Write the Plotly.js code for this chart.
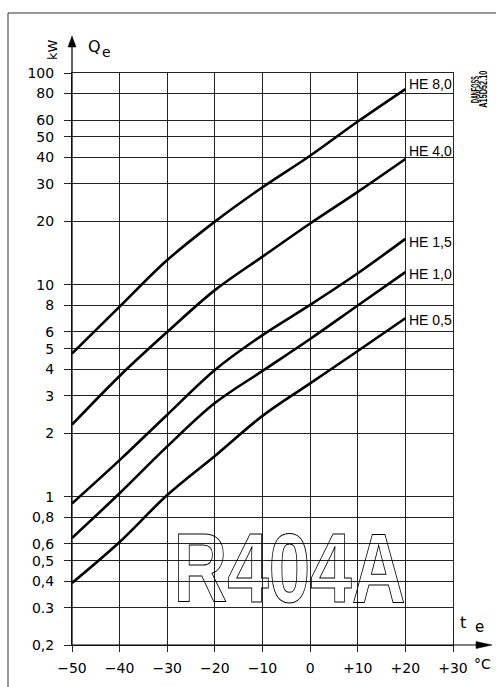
<!DOCTYPE html>
<html><head><meta charset="utf-8">
<script src="https://cdn.plot.ly/plotly-3.0.1.min.js"></script>
<style>html,body{margin:0;padding:0;background:#fff;} #chart{width:496px;height:687px;}</style>
</head><body><div id="chart"></div>
<script>
// ---- data ----
const temps = [-50, -40, -30, -20, -10, 0, 10, 20];
const he80 = [4.75, 7.9, 13.1, 19.9, 28.9, 40.7, 59, 84];
const he40 = [2.19, 3.72, 6.0, 9.45, 13.6, 19.5, 27.5, 39.3];
const he15 = [0.93, 1.49, 2.44, 3.97, 5.8, 8.05, 11.35, 16.5];
const he10 = [0.64, 1.04, 1.73, 2.77, 3.93, 5.56, 8.0, 11.5];
const he05 = [0.392, 0.612, 1.02, 1.56, 2.41, 3.43, 4.88, 6.96];
const seriesNames = ['HE 8,0', 'HE 4,0', 'HE 1,5', 'HE 1,0', 'HE 0,5'];
const xTickVals = [-50, -40, -30, -20, -10, 0, 10, 20, 30];
const xTickText = ['−50', '−40', '−30', '−20', '−10', '0', '+10', '+20', '+30'];
const yTickVals = [0.2, 0.3, 0.4, 0.5, 0.6, 0.8, 1, 2, 3, 4, 5, 6, 8, 10, 20, 30, 40, 50, 60, 80, 100];
const yTickText = ['0,2', '0.3', '0,4', '0,5', '0,6', '0,8', '1', '2', '3', '4', '5', '6', '8', '10', '20', '30', '40', '50', '60', '80', '100'];
const refrigerant = 'R404A';
const drawingId = ['DANFOSS', 'A15D52.10'];

// ---- geometry helpers (pixel -> paper) ----
const W = 496, H = 687, L = 72, R = 43, T = 73, B = 42;
const PW = W - L - R, PH = H - T - B;
const px = x => (x - L) / PW;
const py = y => (H - B - y) / PH;

const FONT = 'DejaVu Sans, Liberation Sans, sans-serif';
const series = [he80, he40, he15, he10, he05];
const labelShift = [5, 8, -3, -2, -2];

const traces = series.map((ys, i) => ({
  x: temps, y: ys, type: 'scatter', mode: 'lines',
  line: {color: '#000', width: 2.6, shape: 'spline', smoothing: 1},
  name: seriesNames[i], hoverinfo: 'skip', showlegend: false, cliponaxis: false
}));

const annotations = series.map((ys, i) => ({
  x: temps[temps.length - 1], y: Math.log10(ys[ys.length - 1]),
  xref: 'x', yref: 'y', text: seriesNames[i], showarrow: false,
  xanchor: 'left', yanchor: 'middle', xshift: 2, yshift: labelShift[i],
  font: {family: 'Liberation Sans, Arial, sans-serif', size: 14, color: '#000'}
}));

const small = (x, y, text, size, xa, ya) => ({
  xref: 'paper', yref: 'paper', x: px(x), y: py(y), text: text, showarrow: false,
  xanchor: xa, yanchor: ya, borderpad: 0, font: {family: FONT, size: size, color: '#000'}
});

annotations.push(
  small(87, 57, 'Q', 16, 'left', 'bottom'),
  small(101, 61, 'e', 14, 'left', 'bottom'),
  Object.assign(small(52, 50, 'kW', 13, 'center', 'middle'), {textangle: -90}),
  small(459.5, 633, 't', 16, 'left', 'bottom'),
  small(474, 637, 'e', 15, 'left', 'bottom'),
  small(482, 664, '°C', 14, 'center', 'middle'),
  {xref: 'paper', yref: 'paper', x: px(474.5), y: py(118), text: drawingId[0], showarrow: false,
   textangle: -90, xanchor: 'center', yanchor: 'bottom', borderpad: 0,
   font: {family: 'Liberation Sans, sans-serif', size: 11, color: '#000', weight: 700}},
  {xref: 'paper', yref: 'paper', x: px(483), y: py(118), text: drawingId[1], showarrow: false,
   textangle: -90, xanchor: 'center', yanchor: 'bottom', borderpad: 0,
   font: {family: 'Liberation Sans, sans-serif', size: 11, color: '#000', weight: 700}},
  {xref: 'paper', yref: 'paper', x: px(289), y: py(568), text: refrigerant, showarrow: false,
   xanchor: 'center', yanchor: 'middle',
   font: {family: 'Liberation Sans, sans-serif', size: 98, color: 'rgba(0,0,0,0)', weight: 700}}
);

const lineStyle = {color: '#000', width: 1.2};
const shapes = [
  // frame
  {type: 'line', xref: 'paper', yref: 'paper', x0: px(8), y0: py(13), x1: px(505), y1: py(13), line: {color: '#333', width: 1}},
  {type: 'line', xref: 'paper', yref: 'paper', x0: px(8), y0: py(13), x1: px(8), y1: py(700), line: {color: '#333', width: 1}},
  // y axis with arrow
  {type: 'line', xref: 'paper', yref: 'paper', x0: 0, y0: 0, x1: 0, y1: py(44), line: lineStyle},
  {type: 'path', xref: 'paper', yref: 'paper',
   path: `M ${px(72)} ${py(36)} L ${px(68)} ${py(47)} L ${px(76)} ${py(47)} Z`,
   fillcolor: '#000', line: {color: '#000', width: 0.5}},
  // x axis with arrow
  {type: 'line', xref: 'paper', yref: 'paper', x0: 0, y0: 0, x1: px(480), y1: 0, line: lineStyle},
  {type: 'path', xref: 'paper', yref: 'paper',
   path: `M ${px(492)} ${py(645)} L ${px(476)} ${py(641.5)} L ${px(476)} ${py(648.5)} Z`,
   fillcolor: '#000', line: {color: '#000', width: 0.5}}
];

const layout = {
  width: W, height: H,
  margin: {l: L, r: R, t: T, b: B, pad: 0},
  paper_bgcolor: '#fff', plot_bgcolor: '#fff',
  showlegend: false,
  font: {family: FONT, size: 14, color: '#000'},
  xaxis: {
    range: [-50, 30], tickmode: 'array', tickvals: xTickVals, ticktext: xTickText,
    showgrid: true, gridcolor: '#222', gridwidth: 1, zeroline: false,
    showline: true, mirror: true, linecolor: '#222', linewidth: 1,
    ticks: 'outside', ticklen: 6, tickcolor: '#222', tickwidth: 1,
    tickfont: {family: FONT, size: 14, color: '#000'}, ticklabelstandoff: 4
  },
  yaxis: {
    type: 'log', range: [Math.log10(0.2), 2], tickmode: 'array', tickvals: yTickVals, ticktext: yTickText,
    showgrid: true, gridcolor: '#222', gridwidth: 1, zeroline: false,
    showline: true, mirror: true, linecolor: '#222', linewidth: 1,
    ticks: 'outside', ticklen: 7, tickcolor: '#222', tickwidth: 1,
    tickfont: {family: FONT, size: 14, color: '#000'}, ticklabelstandoff: 7
  },
  annotations: annotations,
  shapes: shapes
};

Plotly.newPlot('chart', traces, layout, {staticPlot: true, displayModeBar: false}).then(gd => {
  gd.querySelectorAll('.annotation-text').forEach(t => {
    const s = t.textContent;
    if (s === refrigerant) {
      t.setAttribute('textLength', '232');
      t.setAttribute('lengthAdjust', 'spacingAndGlyphs');
      t.style.fill = 'none';
      t.style.stroke = '#000';
      t.style.strokeWidth = '1';
    } else if (s === drawingId[0] || s === drawingId[1]) {
      const len = s === drawingId[0] ? 27 : 37;
      t.setAttribute('textLength', String(len));
      t.setAttribute('lengthAdjust', 'spacingAndGlyphs');
    }
  });
});
</script>
</body></html>
